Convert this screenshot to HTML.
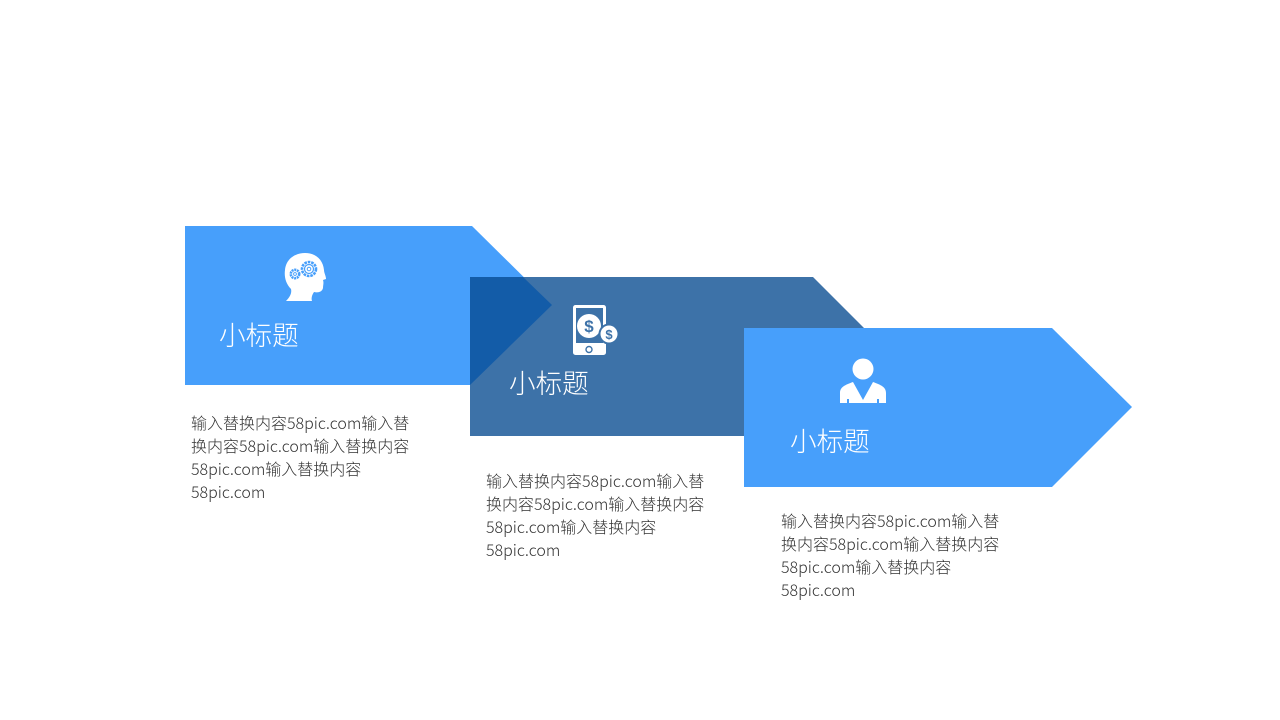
<!DOCTYPE html>
<html><head><meta charset="utf-8">
<style>
html,body{margin:0;padding:0;background:#fff;width:1280px;height:720px;overflow:hidden}
svg{position:absolute;left:0;top:0}
.t{position:absolute;white-space:nowrap;font-family:"Noto Sans CJK SC","Liberation Sans",sans-serif}
.h{color:#fff;font-size:26.6px;line-height:36px;height:36px;font-weight:300}
.b{color:#333;font-size:16px;line-height:23px;height:23px;font-weight:300;font-family:"Noto Sans CJK SC","Liberation Sans",sans-serif}
</style></head><body>
<svg width="1280" height="720" viewBox="0 0 1280 720">
<polygon points="185,226 472,226 552,305 472,385 185,385" fill="#479ffb"/>
<polygon points="470,277 813,277 893,357 813,436 470,436" fill="#3d72a8"/>
<polygon points="470,277 523,277 552,305 470,385" fill="#135ca8"/>
<polygon points="744,328 1052,328 1132,407 1052,487 744,487" fill="#479ffb"/>

<!-- head -->
<path d="M286,301 C290,297 292,293 291,289 C286,284 284,277 285,270 C286,259 295,253 305,253 C316,253 323,260 324,270 C324,273 326,276 326,279 L323,280 C324,283 323,285 323,288 C322,292 318,293 314,292 C312,295 311,298 312,301 Z" fill="#fff"/>
<g fill="none" stroke="#479ffb">
<circle cx="309" cy="269" r="7" stroke-width="2.6" stroke-dasharray="2.6 0.9"/>
<circle cx="309" cy="269" r="4.5" stroke-width="1.2"/>
<circle cx="309" cy="269" r="1.8" stroke-width="1"/>
<circle cx="295" cy="274" r="4.2" stroke-width="2.6" stroke-dasharray="2 0.7"/>
<circle cx="295" cy="274" r="1.4" stroke-width="0.9"/>
</g>

<!-- phone -->
<rect x="573" y="305" width="33" height="50" rx="2.5" fill="#fff"/>
<rect x="576" y="308" width="27" height="35" fill="#3d72a8"/>
<circle cx="589" cy="326" r="12" fill="#fff"/>
<circle cx="609" cy="334" r="10.5" fill="#3d72a8"/>
<circle cx="609" cy="334" r="8.5" fill="#fff"/>
<circle cx="589" cy="349.5" r="3" fill="none" stroke="#3d72a8" stroke-width="1.4"/>
<text x="589" y="332" text-anchor="middle" font-family="Liberation Sans" font-weight="700" font-size="17" fill="#3d72a8">$</text>
<text x="609" y="339" text-anchor="middle" font-family="Liberation Sans" font-weight="700" font-size="13" fill="#3d72a8">$</text>

<!-- person -->
<circle cx="863" cy="369" r="10.5" fill="#fff"/>
<path d="M840,403 L840,393 C840,387 845,385 853,382 L863,400 L873,382 C881,385 886,387 886,393 L886,403 L879,403 L879,399 L877,399 L877,403 L849,403 L849,399 L847,399 L847,403 Z" fill="#fff"/>
</svg>

<div class="t h" style="left:219px;top:316px">小标题</div>
<div class="t h" style="left:509px;top:364px">小标题</div>
<div class="t h" style="left:790px;top:422px">小标题</div>

<div class="t b" style="left:191px;top:411px">输入替换内容58pic.com输入替</div>
<div class="t b" style="left:191px;top:434px">换内容58pic.com输入替换内容</div>
<div class="t b" style="left:191px;top:457px">58pic.com输入替换内容</div>
<div class="t b" style="left:191px;top:480px">58pic.com</div>

<div class="t b" style="left:486px;top:469px">输入替换内容58pic.com输入替</div>
<div class="t b" style="left:486px;top:492px">换内容58pic.com输入替换内容</div>
<div class="t b" style="left:486px;top:515px">58pic.com输入替换内容</div>
<div class="t b" style="left:486px;top:538px">58pic.com</div>

<div class="t b" style="left:781px;top:509px">输入替换内容58pic.com输入替</div>
<div class="t b" style="left:781px;top:532px">换内容58pic.com输入替换内容</div>
<div class="t b" style="left:781px;top:555px">58pic.com输入替换内容</div>
<div class="t b" style="left:781px;top:578px">58pic.com</div>
</body></html>
